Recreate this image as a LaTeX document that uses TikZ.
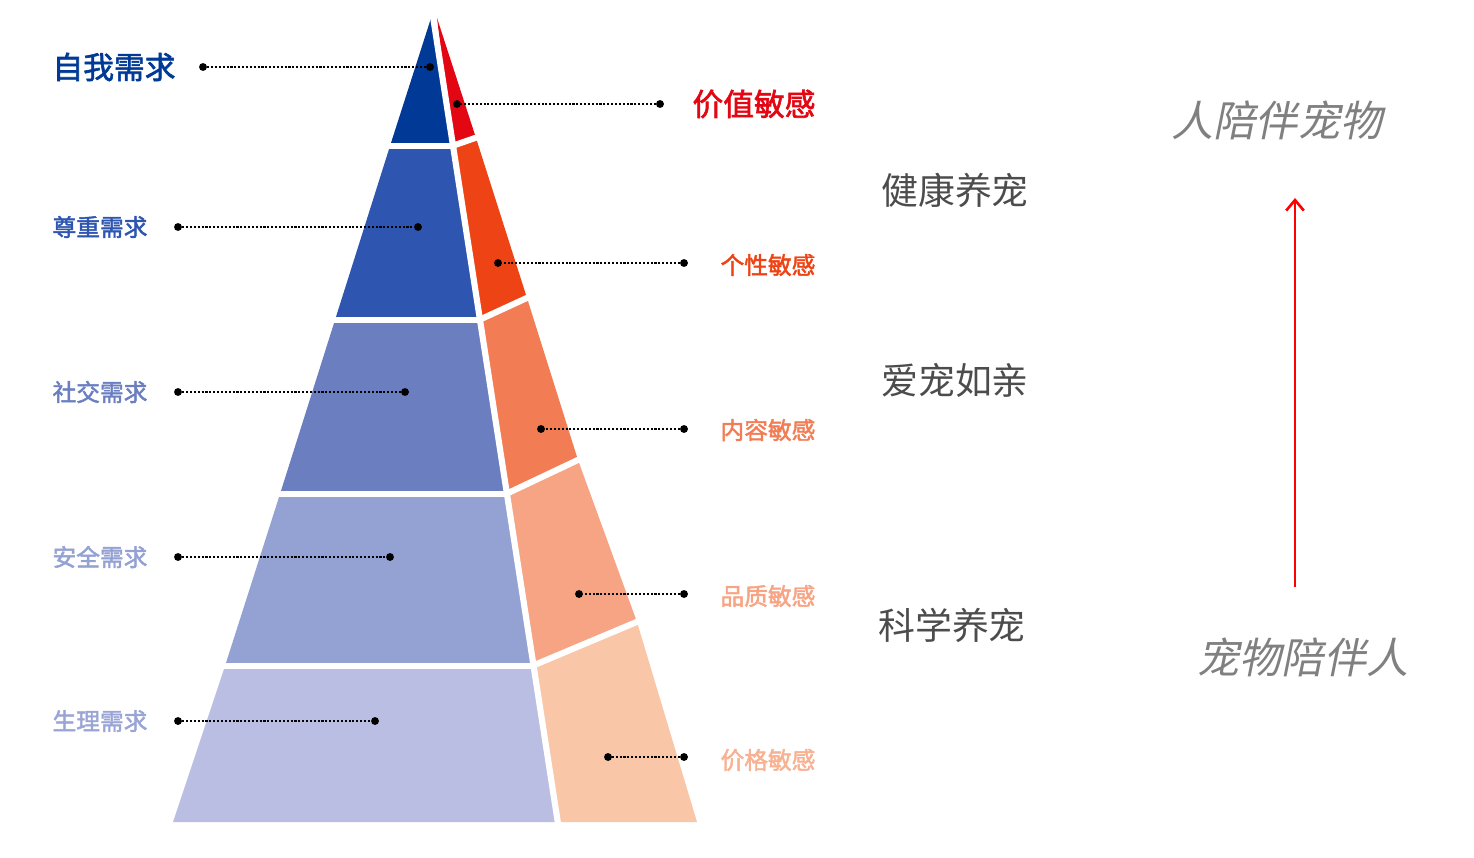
\documentclass[tikz,border=0pt]{standalone}
\usepackage{fontspec}
\usetikzlibrary{arrows.meta}
\newfontfamily\cjk{Noto Sans CJK SC}
\newfontfamily\cjkb[FakeBold=2]{Noto Sans CJK SC}
\newfontfamily\cjki[FakeSlant=0.2]{Noto Sans CJK SC}
\begin{document}
\begin{tikzpicture}[x=0.02cm,y=-0.02cm,
 sep/.style={white,line width=3.5pt},
 lead/.style={densely dotted,line width=1.2pt,black},
 dot/.style={circle,fill=black,inner sep=0pt,minimum size=4.5pt},
 lbl/.style={font=\cjkb\fontsize{13.5}{14}\selectfont},
 mid/.style={font=\cjk\fontsize{21}{22}\selectfont,text=black!70},
 ital/.style={font=\cjki\fontsize{24}{25}\selectfont,text=black!50}]
\useasboundingbox (0,0) rectangle (1474,858);
\definecolor{b1}{HTML}{003A96}\definecolor{b2}{HTML}{2E56B0}\definecolor{b3}{HTML}{6A7EC0}
\definecolor{b4}{HTML}{94A1D3}\definecolor{b5}{HTML}{BABEE2}
\definecolor{r1}{HTML}{E30613}\definecolor{r2}{HTML}{EE4415}\definecolor{r3}{HTML}{F27D55}
\definecolor{r4}{HTML}{F7A484}\definecolor{r5}{HTML}{FAC6A8}
\fill[b1] (432,15) -- (390,146) -- (452,146) -- cycle;
\fill[b2] (390,146) -- (335,320) -- (479,320) -- (452,146) -- cycle;
\fill[b3] (335,320) -- (280,494) -- (506,494) -- (479,320) -- cycle;
\fill[b4] (280,494) -- (225,666) -- (532,666) -- (506,494) -- cycle;
\fill[b5] (225,666) -- (173,822) -- (557,822) -- (532,666) -- cycle;
\fill[r1] (437,18) -- (452,146) -- (476,138) -- cycle;
\fill[r2] (452,146) -- (479,320) -- (527,298) -- (476,138) -- cycle;
\fill[r3] (479,320) -- (506,494) -- (578,460) -- (527,298) -- cycle;
\fill[r4] (506,494) -- (532,666) -- (637,622) -- (578,460) -- cycle;
\fill[r5] (532,666) -- (557,822) -- (697,822) -- (637,622) -- cycle;
\draw[sep] (432,10) -- (559,830);
\foreach \a/\b/\c in {390/452/146,335/479/320,280/506/494,225/532/666}{\draw[sep] (\a-5,\c) -- (\b,\c);}
\draw[sep] (452,146) -- (478,137);\draw[sep] (479,320) -- (529,297);
\draw[sep] (506,494) -- (580,459);\draw[sep] (532,666) -- (639,621);
\foreach \n/\xa/\xb/\y in {l1/203/430/67,l2/178/418/227,l3/178/405/392,l4/178/390/557,l5/178/375/721,
  r1/660/457/104,r2/684/498/263,r3/684/541/429,r4/684/579/594,r5/684/608/757}{
  \node[dot] (\n a) at (\xa,\y) {}; \node[dot] (\n b) at (\xb,\y) {};
  \draw[lead] (\n a) -- (\n b);}
\node[lbl,text=b1,font=\cjkb\fontsize{17.5}{18}\selectfont] (t1) at (114,67) {自我需求};
\node[lbl,text=b2] (t2) at (100,227) {尊重需求};
\node[lbl,text=b3] (t3) at (100,392) {社交需求};
\node[lbl,text=b4] (t4) at (100,557) {安全需求};
\node[lbl,text=b4!85!b5] (t5) at (100,721) {生理需求};
\node[lbl,text=r1,font=\cjkb\fontsize{17.5}{18}\selectfont] (s1) at (754,104) {价值敏感};
\node[lbl,text=r2] (s2) at (768,265) {个性敏感};
\node[lbl,text=r3] (s3) at (768,430) {内容敏感};
\node[lbl,text=r4] (s4) at (768,596) {品质敏感};
\node[lbl,text=r4!60!r5] (s5) at (768,760) {价格敏感};
\node[mid] (m1) at (955,190) {健康养宠};
\node[mid] (m2) at (955,380) {爱宠如亲};
\node[mid] (m3) at (952,625) {科学养宠};
\node[ital] (i1) at (1277,120) {人陪伴宠物};
\node[ital] (i2) at (1303,657) {宠物陪伴人};
\coordinate (a0) at (1295,587); \coordinate (a1) at (1295,198);
\draw[red,line width=1.5pt,-{Straight Barb[length=6pt,width=10pt]}] (a0) -- (a1);
\end{tikzpicture}
\end{document}
